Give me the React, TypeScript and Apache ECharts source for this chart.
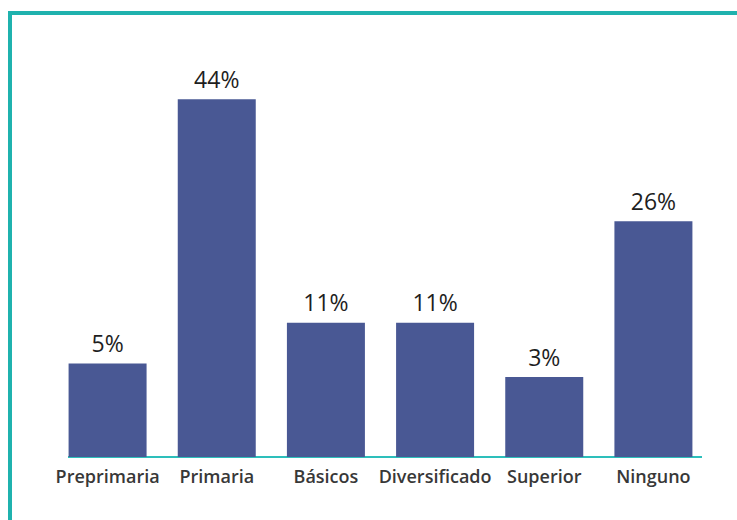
import React, { useEffect, useRef } from "react";
import * as echarts from "echarts";

const categories = ["Preprimaria", "Primaria", "Básicos", "Diversificado", "Superior", "Ninguno"];
const values = [5, 44, 11, 11, 3, 26];
// the drawn bars start from a raised baseline (the picture's bars are not proportional)
const baseOffset = 8.8;

const barColor = "#495894";

export default function App() {
  const ref = useRef<HTMLDivElement>(null);
  useEffect(() => {
    if (!ref.current) return;
    const chart = echarts.init(ref.current, null, { renderer: "svg" });
    chart.setOption({
      animation: false,
      backgroundColor: "#ffffff",
      grid: { left: 53, right: 29, top: 20, bottom: 63 },
      xAxis: {
        type: "category",
        data: categories,
        axisLine: { show: false },
        axisTick: { show: false },
        axisLabel: {
          margin: 10,
          fontFamily: "Open Sans",
          fontSize: 18,
          fontWeight: 600,
          color: "#383838",
          interval: 0,
        },
      },
      yAxis: {
        type: "value",
        min: 0,
        max: 64.5,
        show: false,
        splitLine: { show: false },
      },
      series: [
        {
          type: "bar",
          data: values.map((v) => v + baseOffset),
          barWidth: 78,
          z: 3,
          itemStyle: { color: barColor },
          label: {
            show: true,
            position: "top",
            distance: 9,
            formatter: (p: any) => values[p.dataIndex] + "%",
            fontFamily: "Open Sans",
            fontSize: 23,
            fontWeight: 400,
            color: "#1e1e1e",
          },
        },
      ],
      graphic: [
        {
          type: "rect",
          z: 0,
          shape: { x: 10, y: 13, width: 760, height: 600 },
          style: { fill: "none", stroke: "#1fb2ae", lineWidth: 4 },
        },
        {
          type: "line",
          z: 1,
          shape: { x1: 68, y1: 457, x2: 702, y2: 457 },
          style: { stroke: "#2dbfbb", lineWidth: 2 },
        },
      ],
    });
    return () => chart.dispose();
  }, []);
  return (
    <div
      ref={ref}
      style={{ position: "absolute", left: 0, top: 0, width: 737, height: 520 }}
    />
  );
}
